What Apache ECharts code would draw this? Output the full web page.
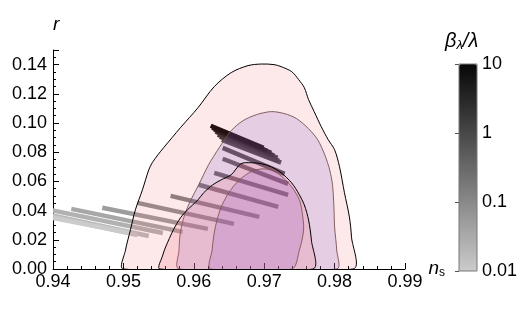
<!DOCTYPE html>
<html>
<head>
<meta charset="utf-8">
<script src="https://cdn.jsdelivr.net/npm/echarts@6/dist/echarts.min.js"></script>
<style>
    html, body { margin: 0; background: #fff; }
    #chart { width: 521px; height: 315px; }
</style>
</head>
<body>
<div id="chart"></div>
<script>
// contour outlines, points as [n_s, r]
const outerPink = [
    [0.9500, 0], [0.9503, 0.013], [0.9510, 0.0268], [0.9517, 0.0405], [0.9527, 0.0542],
    [0.9536, 0.0679], [0.9541, 0.0728], [0.9549, 0.0782], [0.9557, 0.083], [0.9569, 0.0899],
    [0.9581, 0.0968], [0.9606, 0.1105], [0.9629, 0.1249], [0.9653, 0.1345], [0.9677, 0.1393],
    [0.9696, 0.1404], [0.9714, 0.140], [0.9724, 0.1386], [0.9739, 0.1352], [0.9749, 0.1297],
    [0.9757, 0.1242], [0.9763, 0.116], [0.9771, 0.1078], [0.9781, 0.0975], [0.9791, 0.0885],
    [0.9800, 0.0817], [0.9807, 0.070], [0.9814, 0.0522], [0.9821, 0.0357], [0.9824, 0.022],
    [0.9826, 0]
]
const purpleBig = [
    [0.9579, 0], [0.9579, 0.013], [0.9581, 0.0254], [0.9587, 0.0371], [0.9596, 0.0474],
    [0.9607, 0.0577], [0.9621, 0.0714], [0.9636, 0.083], [0.9653, 0.0947], [0.9670, 0.1016],
    [0.9689, 0.1057], [0.9710, 0.1078], [0.9729, 0.1064], [0.9746, 0.103], [0.9763, 0.0961],
    [0.9776, 0.0885], [0.9786, 0.0782], [0.9793, 0.0679], [0.9797, 0.0577], [0.9799, 0.0426],
    [0.9800, 0.0288], [0.9803, 0.013], [0.9803, 0]
]
const pinkSmall = [
    [0.9552, 0], [0.9556, 0.0096], [0.9560, 0.0151], [0.9571, 0.0268], [0.9581, 0.035],
    [0.9591, 0.0405], [0.9606, 0.0474], [0.9614, 0.0522], [0.9627, 0.0577], [0.9639, 0.0611],
    [0.9653, 0.0645], [0.9667, 0.0721], [0.9681, 0.0728], [0.9696, 0.0721], [0.9710, 0.070],
    [0.9724, 0.0659], [0.9739, 0.059], [0.9750, 0.0508], [0.9757, 0.0439], [0.9763, 0.0336],
    [0.9767, 0.0199], [0.9769, 0]
]
const purpleSmall = [
    [0.9624, 0], [0.9626, 0.013], [0.9629, 0.0247], [0.9633, 0.0336], [0.9639, 0.0426],
    [0.9647, 0.0501], [0.9657, 0.057], [0.9670, 0.0631], [0.9684, 0.0673], [0.9699, 0.0686],
    [0.9713, 0.0673], [0.9727, 0.0625], [0.9740, 0.0556], [0.9750, 0.0474], [0.9754, 0.0384],
    [0.9756, 0.0268], [0.9750, 0.013], [0.9739, 0]
]

// model predictions: segment ends [n_s, r] and beta_lambda / lambda of each
const segStart = [
    [0.9390, 0.0410], [0.9390, 0.0377], [0.9390, 0.0366], [0.9390, 0.0358], [0.9426, 0.0412],
    [0.9470, 0.0419], [0.9520, 0.0453], [0.9567, 0.0501], [0.9607, 0.0577], [0.9629, 0.0659],
    [0.9641, 0.0755], [0.9641, 0.0830], [0.9640, 0.0885], [0.9637, 0.0906], [0.9634, 0.0920],
    [0.9631, 0.0940], [0.9629, 0.0954], [0.9626, 0.0968], [0.9624, 0.0981]
]
const segEnd = [
    [0.9556, 0.0247], [0.9536, 0.0226], [0.9520, 0.0233], [0.9510, 0.0247], [0.9584, 0.0254],
    [0.9620, 0.0275], [0.9657, 0.0309], [0.9693, 0.0357], [0.9720, 0.0426], [0.9734, 0.0508],
    [0.9734, 0.0583], [0.9729, 0.0652], [0.9724, 0.0728], [0.9721, 0.0741], [0.9719, 0.0762],
    [0.9714, 0.0776], [0.9710, 0.0796], [0.9704, 0.0810], [0.9699, 0.0830]
]
const betaOverLambda = [0.025, 0.018, 0.013, 0.01, 0.035, 0.05, 0.08, 0.12, 0.2, 0.35, 0.5, 0.8, 1, 1.5, 2, 3, 5, 7, 10]

const FONT = 'Liberation Sans, Arial, sans-serif'

const chart = echarts.init(document.getElementById('chart'))

const segData = segStart.map((s, i) => {
    return [s[0], s[1], segEnd[i][0], segEnd[i][1], Math.log10(betaOverLambda[i])]
})

function contourSeries(pts, fill, stroke) {
    return {
        type: 'custom',
        coordinateSystem: 'cartesian2d',
        silent: true,
        clip: true,
        z: 3,
        data: pts,
        encode: { x: 0, y: 1 },
        renderItem: (params, api) => {
            if (params.dataIndex !== 0) {
                return null
            }
            return {
                type: 'polygon',
                shape: { points: pts.map((p) => api.coord(p)), smooth: 0.3 },
                style: { fill: fill, stroke: stroke, lineWidth: 1 },
            }
        },
    }
}

const option = {
    animation: false,
    textStyle: { fontFamily: FONT, color: '#000' },
    title: {
        text: '{t|β}{s|λ}{t|/λ}',
        left: 445,
        top: 31,
        padding: 0,
        textStyle: {
            fontWeight: 'normal',
            rich: {
                t: { fontFamily: FONT, fontSize: 20, fontStyle: 'italic', fontWeight: 'normal', color: '#000' },
                s: { fontFamily: FONT, fontSize: 13, fontStyle: 'italic', fontWeight: 'normal', color: '#000', padding: [8, 0, 0, 0] },
            },
        },
    },
    grid: [
        { left: 53, right: 116, top: 50, bottom: 46 },
        { left: 459, top: 64, width: 18, height: 207 },
    ],
    xAxis: [
        {
            type: 'value',
            min: 0.94,
            max: 0.99,
            interval: 0.01,
            name: '{n|n}{s|s}',
            nameLocation: 'end',
            nameGap: 22,
            nameTextStyle: {
                rich: {
                    n: { fontFamily: FONT, fontSize: 19, fontStyle: 'italic', color: '#000' },
                    s: { fontFamily: FONT, fontSize: 12, color: '#000', padding: [8, 0, 0, 0] },
                },
            },
            axisLine: { lineStyle: { color: '#000', width: 1 } },
            axisTick: { inside: true, length: 6, lineStyle: { color: '#000' } },
            minorTick: { show: true, splitNumber: 5, length: 3, lineStyle: { color: '#000' } },
            axisLabel: { fontSize: 18, color: '#000', margin: 4, formatter: (v) => v.toFixed(2) },
            splitLine: { show: false },
        },
        { gridIndex: 1, type: 'value', show: false },
    ],
    yAxis: [
        {
            type: 'value',
            min: 0,
            max: 0.15,
            interval: 0.02,
            name: 'r',
            nameLocation: 'end',
            nameGap: 16,
            nameTextStyle: { fontFamily: FONT, fontSize: 19, fontStyle: 'italic', color: '#000', align: 'left' },
            axisLine: { lineStyle: { color: '#000', width: 1 } },
            axisTick: { inside: true, length: 6, lineStyle: { color: '#000' } },
            minorTick: { show: true, splitNumber: 4, length: 3, lineStyle: { color: '#000' } },
            axisLabel: { fontSize: 18, color: '#000', margin: 6, showMaxLabel: false, formatter: (v) => v.toFixed(2) },
            splitLine: { show: false },
        },
        {
            gridIndex: 1,
            type: 'log',
            min: 0.01,
            max: 10,
            position: 'right',
            axisLine: { show: false },
            axisTick: { inside: true, length: 4, lineStyle: { color: '#555' } },
            axisLabel: { fontSize: 18, color: '#000', margin: 5 },
            splitLine: { show: false },
        },
    ],
    visualMap: {
        type: 'continuous',
        min: -2,
        max: 1,
        dimension: 4,
        seriesIndex: 0,
        calculable: false,
        hoverLink: false,
        left: 459,
        top: 64,
        padding: 0,
        itemWidth: 18,
        itemHeight: 207,
        inRange: { color: ['#cbcbcb', '#060606'] },
    },
    graphic: [
        {
            type: 'rect',
            z: 100,
            shape: { x: 459, y: 64, width: 18, height: 207 },
            style: { fill: 'none', stroke: '#777', lineWidth: 1 },
        },
    ],
    series: [
        {
            type: 'custom',
            coordinateSystem: 'cartesian2d',
            clip: true,
            z: 2,
            data: segData,
            encode: { x: [0, 2], y: [1, 3] },
            renderItem: (params, api) => {
                const p1 = api.coord([api.value(0), api.value(1)])
                const p2 = api.coord([api.value(2), api.value(3)])
                return {
                    type: 'line',
                    shape: { x1: p1[0], y1: p1[1], x2: p2[0], y2: p2[1] },
                    style: { stroke: api.visual('color'), lineWidth: 4.5, lineCap: 'butt' },
                }
            },
        },
        contourSeries(outerPink, 'rgba(242,80,95,0.13)', '#000'),
        contourSeries(purpleBig, 'rgba(135,100,200,0.2)', 'rgba(120,80,80,0.9)'),
        contourSeries(pinkSmall, 'rgba(240,110,130,0.2)', '#000'),
        contourSeries(purpleSmall, 'rgba(150,80,195,0.2)', 'rgba(130,85,85,0.9)'),
    ],
}

chart.setOption(option)
</script>
</body>
</html>
